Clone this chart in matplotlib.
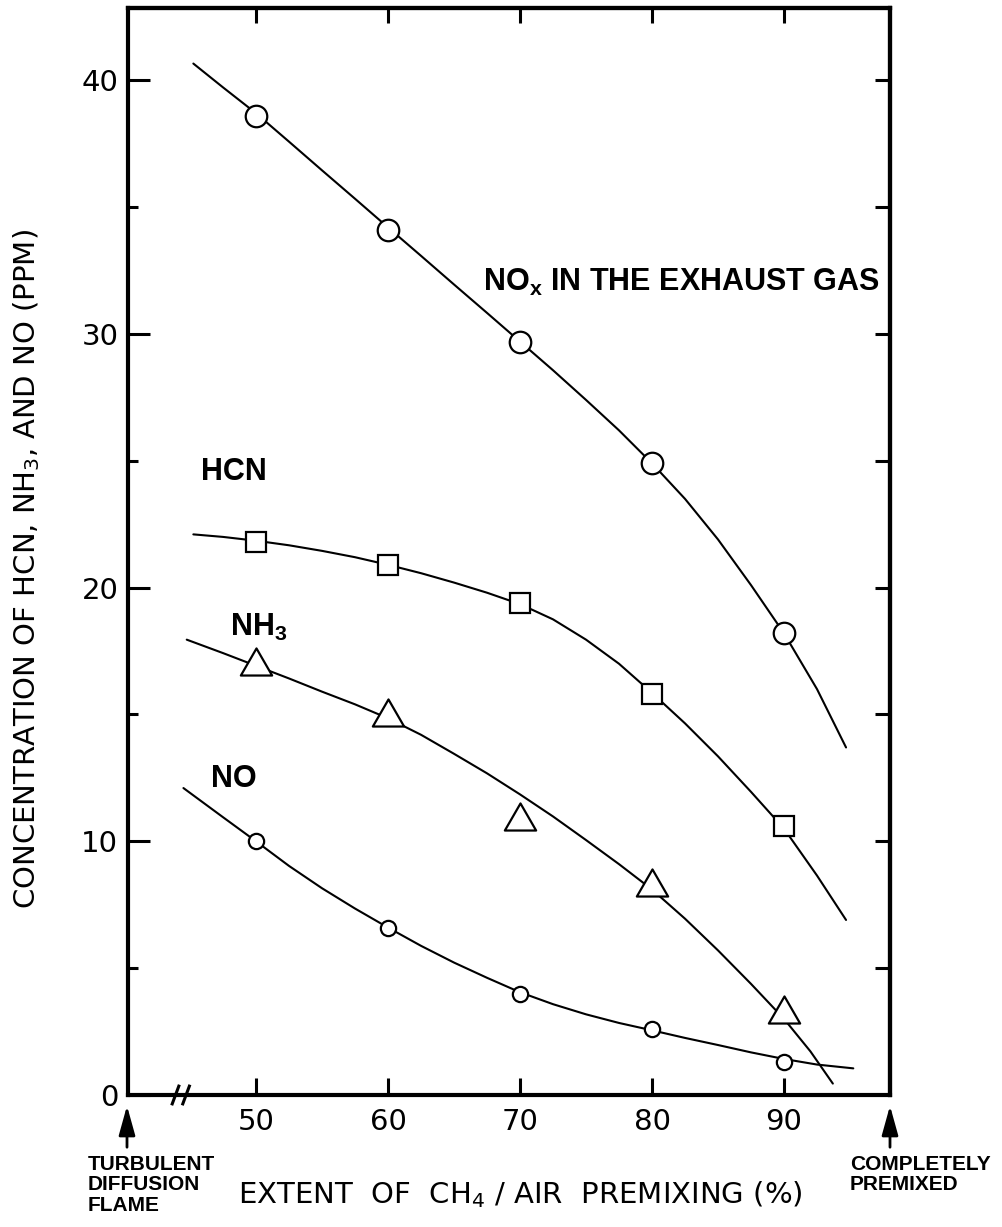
import matplotlib
matplotlib.use("Agg")
import matplotlib.pyplot as plt
from matplotlib.patches import FancyArrowPatch
from matplotlib.path import Path

plt.rcParams["font.family"] = "DejaVu Sans"
plt.rcParams["mathtext.default"] = "regular"

# measured points (extent of premixing, %)
pct = [50, 60, 70, 80, 90]
nox_pts = [38.6, 34.1, 29.7, 24.9, 18.2]
hcn_pts = [21.8, 20.9, 19.4, 15.8, 10.6]
nh3_pts = [16.9, 14.9, 10.8, 8.2, 3.2]
no_pts = [10.0, 6.6, 4.0, 2.6, 1.3]

# hand-drawn fit curves
nox_curve_x = [45.25, 47.5, 50, 52.5, 55, 57.5, 60, 62.5, 65, 67.5, 70,
               72.5, 75, 77.5, 80, 82.5, 85, 87.5, 90, 92.5, 94.7]
nox_curve_y = [40.66, 39.72, 38.7, 37.58, 36.45, 35.33, 34.2, 33.08, 31.95, 30.83, 29.7,
               28.57, 27.4, 26.2, 24.9, 23.5, 21.9, 20.1, 18.2, 16.0, 13.7]
hcn_curve_x = [45.25, 47.5, 50, 52.5, 55, 57.5, 60, 62.5, 65, 67.5, 70,
               72.5, 75, 77.5, 80, 82.5, 85, 87.5, 90, 92.5, 94.7]
hcn_curve_y = [22.1, 22.0, 21.85, 21.67, 21.45, 21.2, 20.9, 20.57, 20.2, 19.8, 19.35,
               18.75, 17.95, 17.0, 15.85, 14.65, 13.35, 11.95, 10.5, 8.65, 6.9]
nh3_curve_x = [44.75, 47.5, 50, 52.5, 55, 57.5, 60, 62.5, 65, 67.5, 70,
               72.5, 75, 77.5, 80, 82.5, 85, 87.5, 90, 92, 93.7]
nh3_curve_y = [17.95, 17.42, 16.92, 16.42, 15.9, 15.4, 14.85, 14.2, 13.45, 12.68, 11.85,
               10.98, 10.05, 9.1, 8.1, 6.95, 5.7, 4.38, 3.0, 1.72, 0.45]
no_curve_x = [44.5, 47.5, 50, 52.5, 55, 57.5, 60, 62.5, 65, 67.5, 70,
              72.5, 75, 77.5, 80, 82.5, 85, 87.5, 90, 92.5, 95.25]
no_curve_y = [12.1, 10.95, 10.0, 9.03, 8.15, 7.35, 6.6, 5.88, 5.22, 4.62, 4.05,
              3.58, 3.18, 2.84, 2.55, 2.25, 1.97, 1.68, 1.42, 1.2, 1.05]

x_ticks = [50, 60, 70, 80, 90]
y_major = [0, 10, 20, 30, 40]
y_minor = [5, 15, 25, 35]
y_right = [5, 10, 15, 20, 25, 30, 35, 40]

W, H = 1002, 1227
fig = plt.figure(figsize=(W / 100, H / 100), dpi=100)
ax = fig.add_axes([128 / W, 132 / H, 762 / W, 1087 / H])
ax.set_xlim(40.3, 98.03)
ax.set_ylim(0, 42.85)

tri = Path([(0, 1.0), (-0.866, -0.5), (0.866, -0.5), (0, 1.0)],
           [Path.MOVETO, Path.LINETO, Path.LINETO, Path.CLOSEPOLY])

for cx, cy in [(nox_curve_x, nox_curve_y), (hcn_curve_x, hcn_curve_y),
               (nh3_curve_x, nh3_curve_y), (no_curve_x, no_curve_y)]:
    ax.plot(cx, cy, color="black", lw=1.5, solid_capstyle="round",
            solid_joinstyle="round", zorder=2)

mk = dict(ls="none", mfc="white", mec="black", mew=1.6, zorder=3, clip_on=False)
ax.plot(pct, nox_pts, marker="o", ms=15.5, **mk)
ax.plot(pct, hcn_pts, marker="s", ms=14.5, **mk)
ax.plot(pct, nh3_pts, marker=tri, ms=26, **mk)
ax.plot(pct, no_pts, marker="o", ms=11, **mk)

# spines / ticks
for s in ax.spines.values():
    s.set_linewidth(3)
ax.set_xticks(x_ticks)
ax.set_yticks(y_major)
ax.set_yticks(y_minor, minor=True)
ax.tick_params(axis="both", which="both", direction="in", width=2.2, colors="black")
ax.tick_params(axis="y", which="major", length=16, labelsize=21, pad=7)
ax.tick_params(axis="y", which="minor", length=7)
ax.tick_params(axis="x", which="major", length=12, labelsize=21, pad=9)
ax.set_xticklabels([str(v) for v in x_ticks])
ax.set_yticklabels([str(v) for v in y_major])

top = ax.secondary_xaxis("top")
top.set_xticks(x_ticks)
top.tick_params(direction="in", length=11, width=2.2, labeltop=False)
top.spines["top"].set_linewidth(3)
right = ax.secondary_yaxis("right")
right.set_yticks(y_right)
right.tick_params(direction="in", length=11, width=2.2, labelright=False)
right.spines["right"].set_linewidth(3)

# axis break mark
for bx in (43.9, 44.7):
    ax.plot([bx - 0.25, bx + 0.25], [-0.35, 0.35], color="black", lw=2.2,
            clip_on=False, zorder=5)

# curve labels
lab = dict(family="Liberation Sans", fontweight="bold", fontsize=22, va="baseline")
ax.text(67.2, 31.7, "NO$_x$ IN THE EXHAUST GAS", **lab)
ax.text(45.8, 24.25, "HCN", **lab)
ax.text(48.0, 18.1, "NH$_3$", **lab)
ax.text(46.6, 12.15, "NO", **lab)

# axis titles
fig.text(27 / W, 1 - 569 / H, "CONCENTRATION OF HCN, NH$_3$, AND NO (PPM)",
         rotation=90, ha="center", va="center", fontsize=21)
fig.text(520 / W, 1 - 1203 / H, "EXTENT  OF  CH$_4$ / AIR  PREMIXING (%)",
         ha="center", va="baseline", fontsize=21)

# end markers below the axis
for px in (127, 890):
    fig.patches.append(FancyArrowPatch(
        (px / W, 1 - 1150 / H), (px / W, 1 - 1103 / H),
        transform=fig.transFigure, mutation_scale=20,
        arrowstyle="-|>,head_length=0.9,head_width=0.25", lw=2, color="black"))

side = dict(family="Liberation Sans", fontweight="bold", fontsize=15,
            va="top", ha="left", linespacing=1.1)
fig.text(88 / W, 1 - 1155 / H, "TURBULENT\nDIFFUSION\nFLAME", **side)
fig.text(850 / W, 1 - 1155 / H, "COMPLETELY\nPREMIXED", **side)

fig.savefig("out.png", dpi=100)
